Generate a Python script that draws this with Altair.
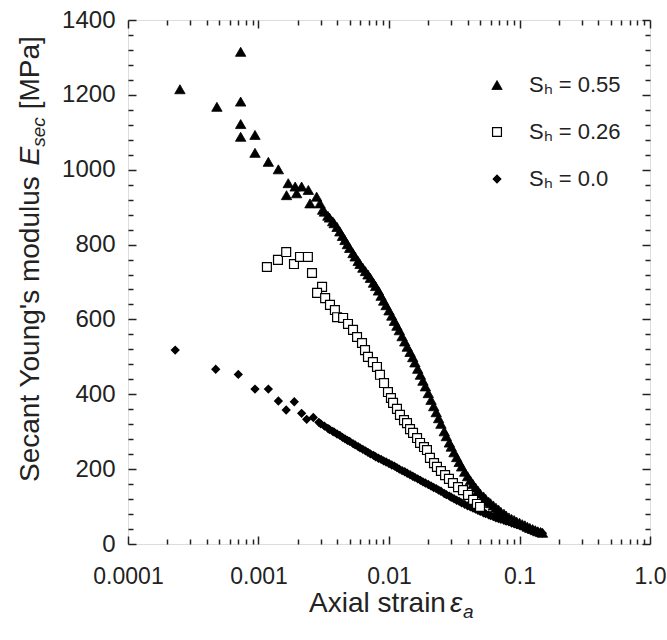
import altair as alt
import pandas as pd

L55 = "Sₕ = 0.55"
L26 = "Sₕ = 0.26"
L00 = "Sₕ = 0.0"
SERIES = [L55, L26, L00]

# ---- S_h = 0.55 (filled triangles) ----
strain_055 = [0.00025, 0.00048, 0.00073, 0.00073, 0.00073, 0.00073, 0.00094, 0.00094, 0.00119, 0.00142,
              0.00164, 0.00169, 0.00191, 0.00196, 0.00214, 0.00241, 0.00248, 0.00279, 0.00296,
              0.0031, 0.0032, 0.0034, 0.0035, 0.0037, 0.0038, 0.0040, 0.0042, 0.0044, 0.0046,
              0.0048, 0.0050, 0.0053, 0.0055, 0.0058, 0.0060, 0.0063, 0.0066, 0.0069, 0.0072,
              0.0076, 0.0079, 0.0083, 0.0087, 0.0091, 0.0095, 0.0100, 0.0105, 0.0110, 0.0115,
              0.0120, 0.0126, 0.0132, 0.0138, 0.0145, 0.0152, 0.0158, 0.0166, 0.0174, 0.0182,
              0.0190, 0.0200, 0.0210, 0.0220, 0.0230, 0.0240, 0.0250, 0.0265, 0.0275, 0.0290,
              0.0300, 0.0315, 0.0330, 0.0345, 0.0360, 0.0380, 0.0400, 0.0420, 0.0440, 0.0460,
              0.0480, 0.0500, 0.0530, 0.0550, 0.0580, 0.0600, 0.0630, 0.0660, 0.0690, 0.0720,
              0.0760, 0.0790, 0.0830, 0.0870, 0.0910, 0.0950, 0.1000, 0.1050, 0.1100, 0.1150,
              0.1200, 0.1260, 0.1320, 0.1380, 0.1450, 0.1500]
mod_055 = [1215, 1168, 1315, 1182, 1122, 1088, 1093, 1045, 1021, 1001,
           932, 964, 955, 937, 955, 946, 910, 928, 910,
           893, 888, 877, 872, 862, 857, 847, 835, 823, 812,
           801, 791, 777, 768, 756, 748, 738, 729, 720, 711,
           698, 689, 677, 663, 650, 638, 624, 610, 596, 583,
           571, 555, 541, 527, 513, 499, 485, 468, 452, 436,
           421, 403, 385, 368, 352, 336, 321, 301, 288, 271,
           260, 245, 232, 219, 207, 193, 181, 170, 160, 151,
           143, 135, 127, 121, 113, 109, 103, 97, 92, 86,
           81, 76, 71, 67, 64, 60, 57, 53, 50, 46,
           43, 40, 37, 34, 32, 30]

# ---- S_h = 0.26 (open squares) ----
strain_026 = [0.00116, 0.00141, 0.00163, 0.00187, 0.00208, 0.00239, 0.00257, 0.00307, 0.00281, 0.00324,
              0.00353, 0.00385, 0.00400, 0.00445, 0.00485, 0.00530, 0.00569, 0.00621, 0.00655, 0.00690,
              0.00753, 0.00809, 0.00853, 0.00916, 0.00982, 0.01035, 0.01074, 0.01151, 0.01213, 0.01303,
              0.01374, 0.01449, 0.01528, 0.01641, 0.01730, 0.01854, 0.01954, 0.0206, 0.02213, 0.0233,
              0.0250, 0.0269, 0.0288, 0.0309, 0.0338, 0.0369, 0.0403, 0.0441, 0.0472, 0.0498]
mod_026 = [740, 759, 780, 748, 767, 767, 724, 687, 671, 657,
           639, 625, 606, 604, 588, 572, 553, 537, 518, 500,
           486, 473, 452, 430, 406, 390, 377, 361, 345, 331,
           323, 307, 297, 283, 270, 259, 251, 230, 216, 206,
           195, 184, 174, 163, 152, 144, 131, 118, 107, 99]

# ---- S_h = 0.0 (filled diamonds) ----
strain_000 = [0.00023, 0.00047, 0.00070, 0.00094, 0.00119, 0.00142, 0.00163, 0.00188, 0.00214, 0.00234, 0.00263,
              0.0029, 0.0030, 0.0032, 0.0034, 0.0035, 0.0037, 0.0038, 0.0040, 0.0042, 0.0044,
              0.0046, 0.0048, 0.0050, 0.0053, 0.0055, 0.0058, 0.0060, 0.0063, 0.0066, 0.0069,
              0.0072, 0.0076, 0.0079, 0.0083, 0.0087, 0.0091, 0.0095, 0.0100, 0.0105, 0.0110,
              0.0115, 0.0120, 0.0126, 0.0132, 0.0138, 0.0145, 0.0152, 0.0158, 0.0166, 0.0174,
              0.0182, 0.0190, 0.0200, 0.0210, 0.0220, 0.0230, 0.0240, 0.0250, 0.0265, 0.0275,
              0.0290, 0.0300, 0.0315, 0.0330, 0.0345, 0.0360, 0.0380, 0.0400, 0.0420, 0.0440,
              0.0460, 0.0480, 0.0500, 0.0530, 0.0550, 0.0580, 0.0600, 0.0630, 0.0660, 0.0690,
              0.0720, 0.0760, 0.0790, 0.0830, 0.0870, 0.0910, 0.0950, 0.1000, 0.1050, 0.1100,
              0.1150, 0.1200, 0.1260, 0.1320, 0.1380, 0.1450, 0.1500]
mod_000 = [518, 467, 453, 414, 414, 382, 358, 380, 349, 333, 338,
           325, 321, 315, 309, 306, 301, 299, 294, 290, 285,
           281, 277, 274, 268, 265, 260, 257, 253, 249, 245,
           241, 237, 233, 229, 226, 222, 219, 215, 211, 208,
           204, 200, 196, 193, 189, 185, 181, 178, 174, 170,
           166, 163, 159, 155, 151, 148, 144, 141, 135, 132,
           128, 125, 121, 117, 114, 110, 106, 102, 99, 96,
           93, 90, 87, 83, 81, 78, 76, 73, 70, 68,
           66, 63, 61, 59, 56, 54, 52, 50, 47, 45,
           42, 40, 38, 35, 33, 31, 29]

x_major = [0.0001, 0.001, 0.01, 0.1, 1.0]
y_major = [0, 200, 400, 600, 800, 1000, 1200, 1400]

rows = []
for s, m in zip(strain_055, mod_055):
    rows.append({"strain": s, "modulus": m, "series": L55, "z": 0})
for s, m in zip(strain_000, mod_000):
    rows.append({"strain": s, "modulus": m, "series": L00, "z": 1})
for s, m in zip(strain_026, mod_026):
    rows.append({"strain": s, "modulus": m, "series": L26, "z": 2})
df = pd.DataFrame(rows)

W, H = 522, 524
LEFT, TOP = 128, 20
FONT = "Liberation Sans"
INK = "#222222"

x_minor = [k * 10.0 ** e for e in range(-4, 0) for k in range(2, 10)]
y_minor = [v for v in range(0, 1401, 40) if v % 200 != 0]

xscale = alt.Scale(type="log", domain=[0.0001, 1.0], nice=False)
yscale = alt.Scale(domain=[0, 1400], nice=False)

x_label_expr = ("datum.value >= 1 ? '1.0' : datum.value >= 0.1 ? '0.1' : "
                "datum.value >= 0.01 ? '0.01' : datum.value >= 0.001 ? '0.001' : '0.0001'")

x_axis = alt.Axis(orient="bottom", values=x_major, labelExpr=x_label_expr, ticks=False, tickSize=0,
                  domain=False, grid=False, title=None, labelFontSize=23, labelFont=FONT,
                  labelColor=INK, labelPadding=21, labelFlush=False, labelOverlap=False)
y_axis = alt.Axis(orient="left", values=y_major, format="d", ticks=False, tickSize=0, domain=False,
                  grid=False, title=None, labelFontSize=24, labelFont=FONT, labelColor=INK,
                  labelPadding=13, labelOverlap=False)

leg = alt.Legend(orient="none", legendX=358, legendY=54, title=None, labelFontSize=22,
                 labelFont=FONT, labelColor=INK, symbolStrokeColor="black",
                 rowPadding=25, labelOffset=21, padding=0)

points = alt.Chart(df).mark_point(opacity=1).encode(
    x=alt.X("strain:Q", scale=xscale, axis=x_axis),
    y=alt.Y("modulus:Q", scale=yscale, axis=y_axis),
    shape=alt.Shape("series:N", scale=alt.Scale(domain=SERIES, range=["triangle-up", "square", "diamond"]), legend=leg),
    fill=alt.Fill("series:N", scale=alt.Scale(domain=SERIES, range=["black", "white", "black"]), legend=leg),
    stroke=alt.Stroke("series:N", scale=alt.Scale(domain=SERIES, range=["black", "black", "black"]), legend=leg),
    size=alt.Size("series:N", scale=alt.Scale(domain=SERIES, range=[108, 50, 95]), legend=leg),
    strokeWidth=alt.StrokeWidth("series:N", scale=alt.Scale(domain=SERIES, range=[0.8, 1.6, 0.8]), legend=leg),
    order=alt.Order("z:Q"),
)


def tick_layer(xorient, yorient, xvals, yvals, size):
    return alt.Chart(df).mark_point(opacity=0).encode(
        x=alt.X("strain:Q", scale=xscale,
                axis=alt.Axis(orient=xorient, offset=-H, values=xvals, labels=False, title=None,
                              domain=False, grid=False, ticks=True, tickSize=size, tickWidth=1.5,
                              tickColor=INK)),
        y=alt.Y("modulus:Q", scale=yscale,
                axis=alt.Axis(orient=yorient, offset=-W, values=yvals, labels=False, title=None,
                              domain=False, grid=False, ticks=True, tickSize=size, tickWidth=1.5,
                              tickColor=INK)),
    )


ticks_in_major_lb = tick_layer("top", "right", x_major, y_major, 8)
ticks_in_minor_lb = tick_layer("top", "right", x_minor, y_minor, 5)
ticks_in_major_rt = tick_layer("bottom", "left", x_major, y_major, 8)
ticks_in_minor_rt = tick_layer("bottom", "left", x_minor, y_minor, 5)


def txt(text, x, y, size, italic=False, angle=0):
    return alt.Chart(alt.Data(values=[{}])).mark_text(
        text=text, fontSize=size, font=FONT, fontStyle="italic" if italic else "normal",
        angle=angle, align="left", baseline="alphabetic", color=INK,
    ).encode(x=alt.value(x), y=alt.value(y))


# y title: Secant Young's modulus E_sec [MPa]  (rotated, reads bottom to top)
F, FS = 28, 19
yt = [
    txt("Secant Young's modulus", -89, 462, F, angle=270),
    txt("E", -89, 145.4, F, italic=True, angle=270),
    txt("sec", -83, 126.7, FS, italic=True, angle=270),
    txt("[MPa]", -89, 89.3, F, angle=270),
]
# x title: Axial strain eps_a
xt = [
    txt("Axial strain", 181, 592, F),
    txt("ε", 322, 592, F, italic=True),
    txt("a", 335, 598, FS, italic=True),
]

chart = alt.layer(
    points, ticks_in_major_lb, ticks_in_minor_lb, ticks_in_major_rt, ticks_in_minor_rt, *yt, *xt
).resolve_axis(x="independent", y="independent").properties(
    width=W, height=H,
    padding={"left": LEFT, "top": TOP, "right": 667 - LEFT - W, "bottom": 640 - TOP - H},
    autosize=alt.AutoSizeParams(type="none"),
).configure_view(stroke=INK, strokeWidth=2).configure(font=FONT, background="white")

chart.save("out.html", embed_options={"renderer": "svg", "actions": False})
